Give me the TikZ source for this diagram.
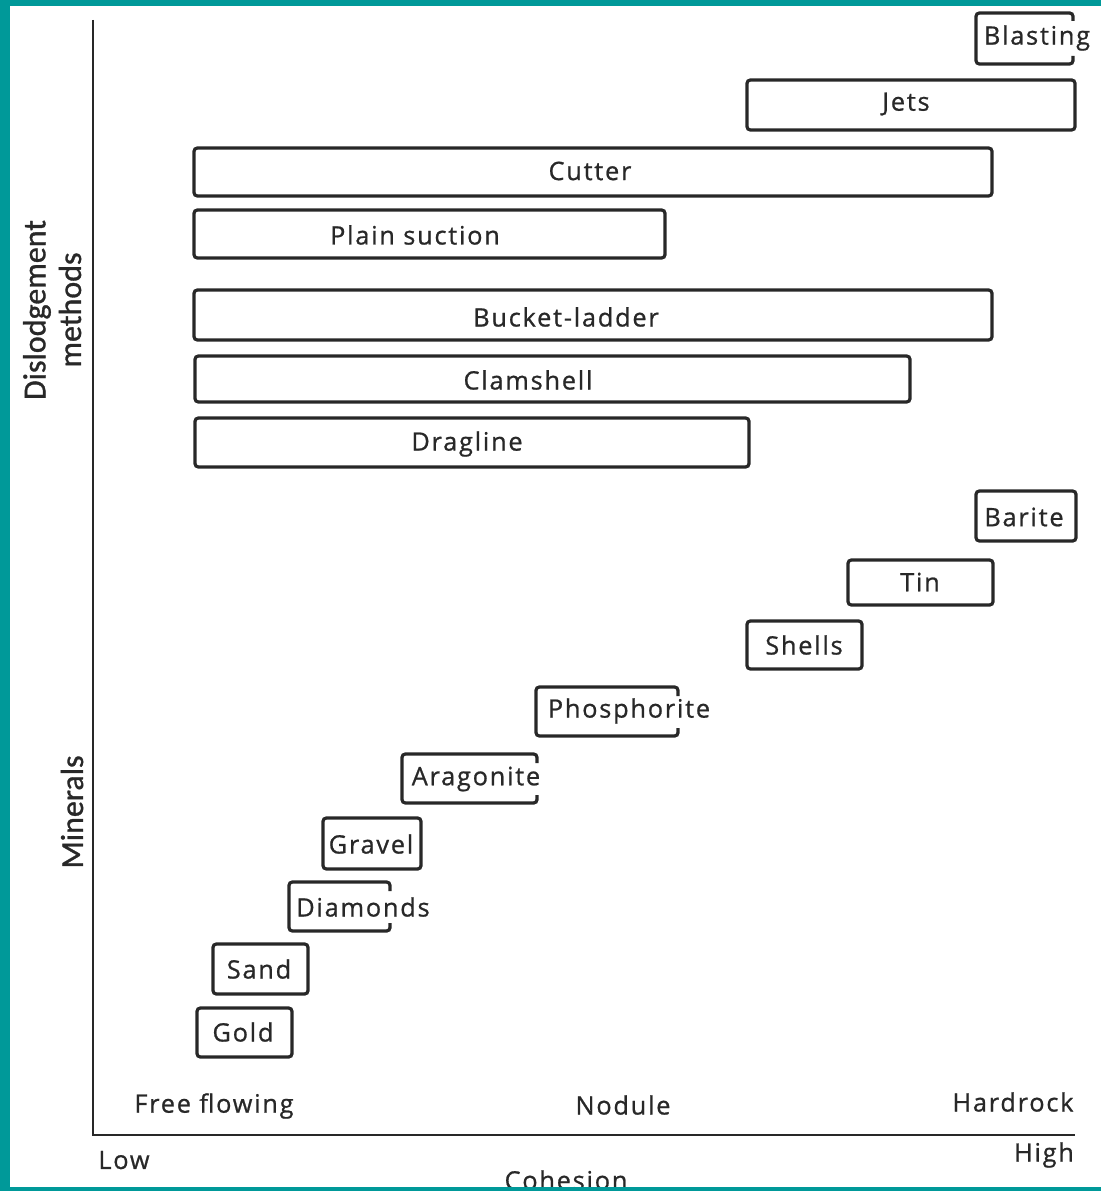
\documentclass[tikz,border=0pt]{standalone}
\usepackage{fontspec}
\setmainfont{Open Sans}[LetterSpace=7, FakeBold=0.8]
\newfontfamily\axisfont{Carlito}[FakeBold=1]
\definecolor{ink}{RGB}{40,40,40}
\definecolor{frame}{RGB}{0,153,153}
\tikzset{
  boxline/.style={draw=ink, line width=2.4pt, rounded corners=2.5pt},
  axisline/.style={draw=ink, line width=1.8pt},
  lbl/.style={text=ink, font=\fontsize{19}{22}\selectfont, inner sep=0pt},
  axlbl/.style={text=ink, font=\axisfont\fontsize{24}{28}\selectfont, inner sep=0pt, rotate=90}
}
\begin{document}
\begin{tikzpicture}[x=0.75pt,y=-0.75pt]
\useasboundingbox (0,0) rectangle (1101,1191);
\fill[white] (0,0) rectangle (1101,1191);
% axes
\coordinate (ytop) at (93,20);
\coordinate (orig) at (93,1135);
\coordinate (xend) at (1075,1135);
\draw[axisline] (ytop) -- (orig) -- (xend);
% dislodgement methods (closed boxes)
\draw[boxline] (747,80) rectangle (1075,130);
\node[lbl] (jets) at (906,104) {Jets};
\draw[boxline] (194,148) rectangle (992,196);
\node[lbl] (cutter) at (590,171) {Cutter};
\draw[boxline] (194,210) rectangle (665,258);
\node[lbl] (plain) at (415,235) {Plain suction};
\draw[boxline] (194,290) rectangle (992,340);
\node[lbl] (bucket) at (566,317) {Bucket-ladder};
\draw[boxline] (195,356) rectangle (910,402);
\node[lbl] (clam) at (528,380) {Clamshell};
\draw[boxline] (195,418) rectangle (749,467);
\node[lbl] (drag) at (467,444) {Dragline};
% blasting (open at right)
\draw[boxline] (1073,21) -- (1073,13) -- (976,13) -- (976,64) -- (1073,64) -- (1073,56);
\node[lbl] (blast) at (1037,38) {Blasting};
% minerals
\draw[boxline] (976,491) rectangle (1076,541);
\node[lbl] (barite) at (1024,517) {Barite};
\draw[boxline] (848,560) rectangle (993,605);
\node[lbl] (tin) at (920,582) {Tin};
\draw[boxline] (747,621) rectangle (862,669);
\node[lbl] (shells) at (804,645) {Shells};
\draw[boxline] (678,696) -- (678,687) -- (536,687) -- (536,736) -- (678,736) -- (678,728);
\node[lbl] (phos) at (629,711) {Phosphorite};
\draw[boxline] (537,763) -- (537,754) -- (402,754) -- (402,803) -- (537,803) -- (537,795);
\node[lbl] (arag) at (476,779) {Aragonite};
\draw[boxline] (323,818) rectangle (421,869);
\node[lbl] (gravel) at (371,844) {Gravel};
\draw[boxline] (390,891) -- (390,882) -- (289,882) -- (289,931) -- (390,931) -- (390,923);
\node[lbl] (diam) at (363,907) {Diamonds};
\draw[boxline] (213,944) rectangle (308,994);
\node[lbl] (sand) at (259,969) {Sand};
\draw[boxline] (197,1008) rectangle (292,1057);
\node[lbl] (gold) at (243,1032) {Gold};
% axis texts
\node[lbl] (free) at (214,1106) {Free flowing};
\node[lbl] (nodule) at (623,1105) {Nodule};
\node[lbl] (hard) at (1013,1102) {Hardrock};
\node[lbl] (low) at (124,1160) {Low};
\node[lbl] (high) at (1044,1155) {High};
\node[lbl] (coh) at (566,1180) {Cohesion};
\node[axlbl] (disl) at (37,310) {Dislodgement};
\node[axlbl] (meth) at (70,310) {methods};
\node[axlbl] (miner) at (72,812) {Minerals};
% teal frame
\fill[frame] (0,0) rectangle (10,1191);
\fill[frame] (0,0) rectangle (1101,6);
\fill[frame] (0,1187) rectangle (1101,1191);
\end{tikzpicture}
\end{document}
